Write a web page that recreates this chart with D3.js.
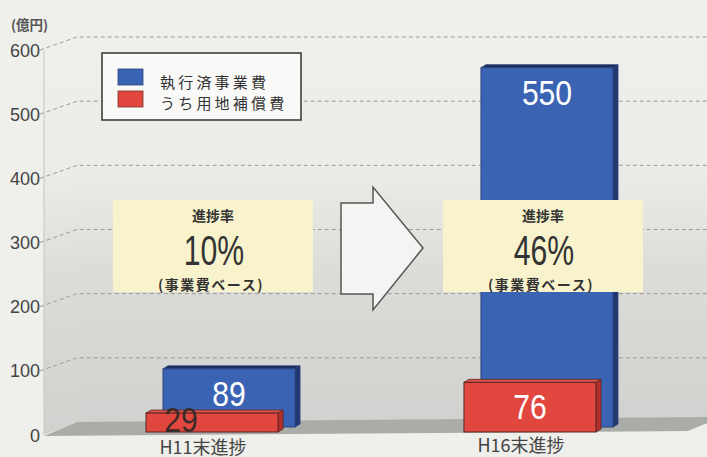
<!DOCTYPE html>
<html>
<head>
<meta charset="utf-8">
<script src="https://cdn.jsdelivr.net/npm/d3@7"></script>
<style>
  html, body { margin: 0; padding: 0; background: #efefeb; }
  svg { display: block; }
  .cjk { font-family: "Noto Sans CJK JP", "Noto Sans", sans-serif; }
  .num { font-family: "Liberation Sans", Arial, sans-serif; }
</style>
</head>
<body>
<svg id="chart" width="707" height="457"></svg>
<script>
// Project budget progress: executed cost and the land-compensation part of it
const categories = ["H11末進捗", "H16末進捗"];
const execCost = [89, 550];        // 執行済事業費 (億円)
const landCost = [29, 76];         // うち用地補償費 (億円)
const progressRate = ["10%", "46%"];
const yTicks = [0, 100, 200, 300, 400, 500, 600];
const seriesNames = ["執行済事業費", "うち用地補償費"];
const unitLabel = "(億円)";

const W = 707, H = 457;
const svg = d3.select("#chart");

// front axis plane and depth offset of the back wall
const axisX = 44;
const wallDX = 33, wallDY = -13;
const y = d3.scaleLinear().domain([0, 600]).range([435, 50]);

// bar geometry
const x = d3.scaleBand().domain(categories).range([163, 611]).paddingInner(0.591).paddingOuter(0);
const barH = d3.scaleLinear().domain([0, 600]).range([0, 392]);
const rows = [
  { values: execCost, base: 427, shift: 0,   front: "#3b63b3", side: "#22386e", top: "#1d2d58", edge: "#2a437f" },
  { values: landCost, base: 432, shift: -17, front: "#e1463f", side: "#b5302b", top: "#e0554e", edge: "#5a2520" }
];
const depthX = 5, depthY = -3;

// condensed numeric text: horizontally squeezed around its anchor
function condensedText(sel, cx, by, txt, size, sx, fill) {
  return sel.append("text").attr("class", "num")
    .attr("transform", `translate(${cx},${by}) scale(${sx},1)`)
    .attr("text-anchor", "middle").attr("font-size", size).attr("fill", fill).text(txt);
}

// background gradient for walls
const defs = svg.append("defs");
const g1 = defs.append("linearGradient").attr("id", "wall").attr("x1", 0).attr("y1", 0).attr("x2", 0).attr("y2", 1);
g1.append("stop").attr("offset", "0%").attr("stop-color", "#efefeb");
g1.append("stop").attr("offset", "35%").attr("stop-color", "#ebebe7");
g1.append("stop").attr("offset", "60%").attr("stop-color", "#dcdcd9");
g1.append("stop").attr("offset", "100%").attr("stop-color", "#d1d1cf");

const wallTop = y(600) + wallDY;
const floorBack = y(0) + wallDY;
// back wall
svg.append("rect").attr("x", axisX + wallDX).attr("y", wallTop).attr("width", W - axisX - wallDX).attr("height", floorBack - wallTop + 2)
  .attr("fill", "url(#wall)");
// left side wall
svg.append("path").attr("d", d3.line()([[axisX, y(600)], [axisX + wallDX, wallTop], [axisX + wallDX, floorBack], [axisX, y(0)]]))
  .attr("fill", "url(#wall)");

// floor
svg.append("path").attr("d", d3.line()([[axisX, y(0) + 1], [688, y(0) - 4], [W + 14, floorBack - 5], [axisX + wallDX, floorBack]]) + "Z")
  .attr("fill", "#a9aca7");

// axis line
svg.append("line").attr("x1", axisX).attr("x2", axisX).attr("y1", y(600)).attr("y2", y(0))
  .attr("stroke", "#c4c4c0").attr("stroke-width", 1);

// gridlines (slanted from the axis to the back wall)
const grid = svg.append("g");
yTicks.filter(t => t > 0).forEach(t => {
  grid.append("path")
    .attr("d", d3.line()([[axisX - 4, y(t)], [axisX + wallDX, y(t) + wallDY], [W, y(t) + wallDY]]))
    .attr("fill", "none").attr("stroke", "#9a9a98").attr("stroke-width", 1).attr("stroke-dasharray", "4,3");
});

// y tick labels
svg.append("g").selectAll("text").data(yTicks).join("text")
  .attr("x", 40).attr("y", d => y(d) + 6.5)
  .attr("text-anchor", "end")
  .attr("font-family", "'Liberation Sans', Arial, sans-serif")
  .attr("font-size", 18).attr("fill", "#444")
  .text(d => d);

svg.append("text").attr("class", "cjk").attr("x", 11).attr("y", 30)
  .attr("font-size", 13.5).attr("font-weight", "bold").attr("fill", "#555").text(unitLabel);

// 3D bars, back row first
const bars = svg.append("g");
rows.forEach(r => {
  categories.forEach((c, i) => {
    const v = r.values[i];
    const x0 = x(c) + r.shift, w = x.bandwidth() + 2;
    const top = r.base - barH(v), bot = r.base;
    const gb = bars.append("g");
    // side face
    gb.append("path").attr("d", d3.line()([[x0 + w, top], [x0 + w + depthX, top + depthY], [x0 + w + depthX, bot + depthY], [x0 + w, bot]]) + "Z")
      .attr("fill", r.side).attr("stroke", r.edge).attr("stroke-width", 0.8);
    // top face
    gb.append("path").attr("d", d3.line()([[x0, top], [x0 + depthX, top + depthY], [x0 + w + depthX, top + depthY], [x0 + w, top]]) + "Z")
      .attr("fill", r.top).attr("stroke", r.edge).attr("stroke-width", 0.8);
    // front face
    gb.append("rect").attr("x", x0).attr("y", top).attr("width", w).attr("height", bot - top)
      .attr("fill", r.front).attr("stroke", r.edge).attr("stroke-width", 1);
  });
});

// value labels
rows.forEach(r => {
  categories.forEach((c, i) => {
    const v = r.values[i];
    const x0 = x(c) + r.shift, w = x.bandwidth() + 2;
    const top = r.base - barH(v);
    const fitsInside = barH(v) > 30;
    condensedText(svg,
      fitsInside ? x0 + w / 2 : x0 + 35,
      fitsInside ? top + 37 : r.base,
      v, 35, 0.86, fitsInside ? "#ffffff" : "#3a2a28");
  });
});

// category labels
svg.append("g").selectAll("text").data(categories).join("text")
  .attr("class", "cjk")
  .attr("x", d => x(d) - 17 + x.bandwidth() / 2 - 8)
  .attr("y", (d, i) => 454 - i * 2)
  .attr("text-anchor", "middle").attr("font-size", 18).attr("fill", "#444")
  .text(d => d);

// progress boxes
const boxW = 200, boxTop = 200, boxH = 92;
const boxX = [113, 443];
categories.forEach((c, i) => {
  const bx = boxX[i], cx = bx + boxW / 2;
  svg.append("rect").attr("x", bx).attr("y", boxTop).attr("width", boxW).attr("height", boxH).attr("fill", "#f8f3cd");
  svg.append("text").attr("class", "cjk").attr("x", cx).attr("y", boxTop + 21)
    .attr("text-anchor", "middle").attr("font-size", 14).attr("font-weight", "bold").attr("fill", "#333").text("進捗率");
  condensedText(svg, cx + 1, boxTop + 65, progressRate[i], 42, 0.72, "#333");
  svg.append("text").attr("class", "cjk").attr("x", cx - 2).attr("y", boxTop + 90)
    .attr("text-anchor", "middle").attr("font-size", 14).attr("font-weight", "bold")
    .attr("letter-spacing", 1.5).attr("fill", "#333").text("(事業費ベース)");
});

// arrow between the two boxes
svg.append("path")
  .attr("d", d3.line()([[341, 203], [373, 203], [373, 187], [423, 248], [373, 310], [373, 294], [341, 294]]) + "Z")
  .attr("fill", "#f4f4f2").attr("stroke", "#555").attr("stroke-width", 1.5);

// legend
const lg = svg.append("g");
lg.append("rect").attr("x", 102).attr("y", 53).attr("width", 199).attr("height", 67)
  .attr("fill", "#f9f9f7").attr("stroke", "#333").attr("stroke-width", 1.5);
[rows[0].front, rows[1].front].forEach((col, i) => {
  lg.append("rect").attr("x", 118).attr("y", 69 + i * 22).attr("width", 25).attr("height", 16)
    .attr("fill", col).attr("stroke", i ? "#7a3028" : "#2a437f").attr("stroke-width", 0.8);
  lg.append("text").attr("class", "cjk").attr("x", 160).attr("y", 88 + i * 21)
    .attr("font-size", 15).attr("letter-spacing", 3.2).attr("fill", "#333").text(seriesNames[i]);
});
</script>
</body>
</html>
